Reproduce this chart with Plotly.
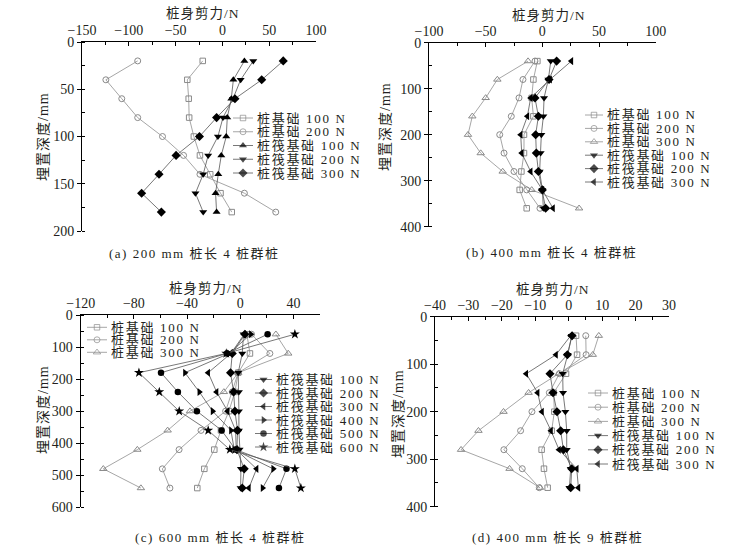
import plotly.graph_objects as go

W, H = 742, 546

# ---------------- data ----------------
depth_a = [20, 40, 60, 80, 100, 120, 140, 160, 180]
a_pile_100 = [-21, -37.5, -36, -35.5, -30.5, -24, -13, -2, 10]
a_pile_200 = [-90.5, -124.5, -107.5, -90.5, -64, -41.5, -24, 23.5, 57]
a_raft_100 = [23.5, 11.7, 9.5, 5.2, 4.1, -1.2, -4.4, -7.3, -6.2]
a_raft_200 = [33, 19.5, 11.3, 0.6, -4.8, -15.2, -20.5, -28.8, -20.5]
a_raft_300 = [65, 42, 13.4, -6.2, -24.5, -49.5, -67.7, -86.3, -65.2]

depth_b = [40, 80, 120, 160, 200, 240, 280, 320, 360]
b_pile_100 = [-4.4, -7.9, -9.4, -7.9, -16.2, -16.2, -18.5, -20, -13.8]
b_pile_200 = [-6.5, -17.1, -20.6, -27.4, -37.6, -33.8, -25, -13.8, -2.1]
b_pile_300 = [-12.6, -39.7, -50, -61.8, -65.6, -54.4, -35, -9.4, 32.4]
b_raft_100 = [7.4, 5.3, 1.5, 0.9, -0.9, -1.5, -2.4, 0, 0.9]
b_raft_200 = [12.6, 5.9, -6.5, -3.5, -5.9, -5.3, -3.5, 0, 2.9]
b_raft_300 = [25.6, 6.8, -10.3, -13.2, -19.1, -18.2, -10.3, 0, 9.4]

depth_c = [60, 120, 180, 240, 300, 360, 420, 480, 540]
c_pile_100 = [5, 7.3, -1.5, -4, -8.5, -14.5, -19.5, -27, -32.3]
c_pile_200 = [8.5, 22.3, -1.5, -6, -11, -29.5, -46, -58.6, -52.9]
c_pile_300 = [26.8, 36.1, -1.5, -12.3, -37.8, -54.6, -77.4, -103, -74.7]
c_raft_100 = [2.5, 1.5, -1.5, -1, -1, -1, -0.5, 0.5, 0.3]
c_raft_200 = [3.5, -6, -7.3, -5, -4, -2, -2.5, 3, 1.5]
c_raft_300 = [3, -7, -24.1, -17.8, -9.5, -3.5, -3, 12.3, 6.5]
c_raft_400 = [8, -8.5, -41.6, -30.8, -20.8, -7, -4.5, 24.8, 16.8]
c_raft_500 = [20.6, -10, -59.6, -46.9, -32.6, -14, -3.5, 34.8, 29.1]
c_raft_600 = [41.1, -10.5, -76.2, -60.9, -45.9, -24.1, -7.8, 41.1, 45.6]

depth_d = [40, 80, 120, 160, 200, 240, 280, 320, 360]
d_pile_100 = [2.2, 2.5, -0.8, -4.5, -4.3, -5.1, -8.1, -7.4, -6.3]
d_pile_200 = [5.1, 5.2, -2.8, -5.8, -11.0, -14.4, -19.4, -13.9, -8.8]
d_pile_300 = [9.0, 7.2, -3.0, -12.0, -19.5, -27.0, -32.2, -17.7, -8.6]
d_raft_100 = [0.9, -0.3, -1.8, -1.7, -1.0, -0.6, -0.6, 0.6, 0.2]
d_raft_200 = [1.0, -0.4, -5.6, -4.7, -3.5, -2.4, -1.6, 0.9, 0.6]
d_raft_300 = [0.6, -3.8, -12.7, -9.3, -8.0, -5.3, -2.9, 2.4, 2.9]

x_title = "桩身剪力/N"
y_title = "埋置深度/mm"
captions = ["(a) 200 mm 桩长 4 桩群桩", "(b) 400 mm 桩长 4 桩群桩",
            "(c) 600 mm 桩长 4 桩群桩", "(d) 400 mm 桩长 9 桩群桩"]

# ---------------- styles ----------------
FONT = "Liberation Serif, Noto Sans CJK SC, serif"
TXT = "#231f20"
HOLLOW = "#8a8a8a"
HLINE = "#8f8f8f"
FLINE = "#555555"

ST = {
    "p100": dict(symbol="square-open", size=5.5, color=HOLLOW, lc=HLINE, filled=False),
    "p200": dict(symbol="circle-open", size=6, color=HOLLOW, lc=HLINE, filled=False),
    "p300": dict(symbol="triangle-up-open", size=6.5, color=HOLLOW, lc=HLINE, filled=False),
    "up": dict(symbol="triangle-up", size=7, color="black", lc=FLINE, filled=True),
    "down": dict(symbol="triangle-down", size=7, color="black", lc=FLINE, filled=True),
    "dia": dict(symbol="diamond", size=7, color="black", lc=FLINE, filled=True),
    "left": dict(symbol="triangle-left", size=7, color="black", lc=FLINE, filled=True),
    "right": dict(symbol="triangle-right", size=7, color="black", lc=FLINE, filled=True),
    "dot": dict(symbol="circle", size=6.5, color="black", lc=FLINE, filled=True),
    "star": dict(symbol="star", size=7.5, color="black", lc=FLINE, filled=True),
}


def px2x(p):
    return p / W


def px2y(p):
    return 1 - p / H


def spaced(text, ls):
    return f'<span style="letter-spacing:{ls}px">{text}</span>'


panels = [
    dict(dom=(82, 316, 42, 231), xr=[-150, 100], xt=dict(tick0=-150, dtick=50), xminor=25,
         yr=[200, 0], ydt=50, yminor=25, depth=depth_a,
         series=[("桩基础 100 N", a_pile_100, "p100"), ("桩基础 200 N", a_pile_200, "p200"),
                 ("桩筏基础 100 N", a_raft_100, "up"), ("桩筏基础 200 N", a_raft_200, "down"),
                 ("桩筏基础 300 N", a_raft_300, "dia")],
         legends=[(list(range(5)), 233, 253, 118, 13.75)],
         xtitle=(203, 13), ytitle=(43, 137), cap=(194, 253)),
    dict(dom=(429, 655.7, 42.7, 226.7), xr=[-100, 100], xt=dict(tick0=-100, dtick=50), xminor=25,
         yr=[400, 0], ydt=100, yminor=50, depth=depth_b,
         series=[("桩基础 100 N", b_pile_100, "p100"), ("桩基础 200 N", b_pile_200, "p200"),
                 ("桩基础 300 N", b_pile_300, "p300"), ("桩筏基础 100 N", b_raft_100, "down"),
                 ("桩筏基础 200 N", b_raft_200, "dia"), ("桩筏基础 300 N", b_raft_300, "left")],
         legends=[(list(range(6)), 585, 603, 115, 13.4)],
         xtitle=(549, 15), ytitle=(385, 127), cap=(551, 252)),
    dict(dom=(80.7, 320, 315, 507.3), xr=[-120, 60], xt=dict(tickvals=[-120, -80, -40, 0, 40]), xminor=20,
         yr=[600, 0], ydt=100, yminor=50, depth=depth_c,
         series=[("桩基础 100 N", c_pile_100, "p100"), ("桩基础 200 N", c_pile_200, "p200"),
                 ("桩基础 300 N", c_pile_300, "p300"), ("桩筏基础 100 N", c_raft_100, "down"),
                 ("桩筏基础 200 N", c_raft_200, "dia"), ("桩筏基础 300 N", c_raft_300, "left"),
                 ("桩筏基础 400 N", c_raft_400, "right"), ("桩筏基础 500 N", c_raft_500, "dot"),
                 ("桩筏基础 600 N", c_raft_600, "star")],
         legends=[([0, 1, 2], 87, 107, 327.3, 12.5), ([3, 4, 5, 6, 7, 8], 255, 272, 379.5, 13.5)],
         xtitle=(206, 288), ytitle=(43, 410), cap=(220, 537)),
    dict(dom=(435, 669, 316.7, 506.7), xr=[-40, 30], xt=dict(tick0=-40, dtick=10), xminor=5,
         yr=[400, 0], ydt=100, yminor=50, depth=depth_d,
         series=[("桩基础 100 N", d_pile_100, "p100"), ("桩基础 200 N", d_pile_200, "p200"),
                 ("桩基础 300 N", d_pile_300, "p300"), ("桩筏基础 100 N", d_raft_100, "down"),
                 ("桩筏基础 200 N", d_raft_200, "dia"), ("桩筏基础 300 N", d_raft_300, "left")],
         legends=[(list(range(6)), 588, 608, 393, 14.2)],
         xtitle=(553, 289), ytitle=(398, 414), cap=(557, 537)),
]

fig = go.Figure()
layout = dict(width=W, height=H, margin=dict(l=0, r=0, t=0, b=0, pad=0, autoexpand=False),
              paper_bgcolor="white", plot_bgcolor="white", showlegend=False,
              font=dict(family=FONT, size=13, color=TXT))
annotations = []


def marker_of(st):
    return dict(symbol=st["symbol"], size=st["size"], color=st["color"],
                line=dict(width=0 if st["filled"] else 1, color=st["color"]))


ax_id = 0
for pi, p in enumerate(panels):
    ax_id += 1
    xa = "x" if ax_id == 1 else f"x{ax_id}"
    ya = "y" if ax_id == 1 else f"y{ax_id}"
    x0, x1, y0, y1 = p["dom"]
    xaxis = dict(domain=[px2x(x0), px2x(x1)], range=p["xr"], side="top", anchor=ya,
                 automargin=False,
                 showline=True, linecolor="black", linewidth=1.1, mirror=False,
                 showgrid=False, zeroline=False, ticks="inside", ticklen=4, tickwidth=1,
                 tickcolor="black", tickfont=dict(family=FONT, size=14, color=TXT),
                 minor=dict(ticks="inside", dtick=p["xminor"], ticklen=3, tickwidth=1,
                            tickcolor="black", showgrid=False),
                 fixedrange=True, **p["xt"])
    yaxis = dict(domain=[px2y(y1), px2y(y0)], range=p["yr"], anchor=xa,
                 automargin=False,
                 showline=True, linecolor="black", linewidth=1.1, mirror=False,
                 showgrid=False, zeroline=False, ticks="outside", ticklen=4, tickwidth=1,
                 tickcolor="black", dtick=p["ydt"], tick0=0,
                 tickfont=dict(family=FONT, size=14, color=TXT),
                 minor=dict(ticks="inside", dtick=p["yminor"], ticklen=3, tickwidth=1,
                            tickcolor="black", showgrid=False),
                 fixedrange=True)
    layout["xaxis" if ax_id == 1 else f"xaxis{ax_id}"] = xaxis
    layout["yaxis" if ax_id == 1 else f"yaxis{ax_id}"] = yaxis

    for name, vals, sk in p["series"]:
        st = ST[sk]
        fig.add_trace(go.Scatter(x=vals, y=p["depth"], name=name, mode="lines+markers",
                                 xaxis=xa, yaxis=ya,
                                 line=dict(color=st["lc"], width=0.8),
                                 marker=marker_of(st), hoverinfo="x+y+name"))

    annotations.append(dict(text=spaced(x_title, 1), x=px2x(p["xtitle"][0]), y=px2y(p["xtitle"][1]),
                            xref="paper", yref="paper", xanchor="center", yanchor="middle",
                            showarrow=False, font=dict(family=FONT, size=13.5, color=TXT)))
    annotations.append(dict(text=spaced(y_title, 1), x=px2x(p["ytitle"][0]), y=px2y(p["ytitle"][1]),
                            xref="paper", yref="paper", xanchor="center", yanchor="middle",
                            showarrow=False, textangle=-90,
                            font=dict(family=FONT, size=14, color=TXT)))
    annotations.append(dict(text=spaced(captions[pi], 1.5), x=px2x(p["cap"][0]), y=px2y(p["cap"][1]),
                            xref="paper", yref="paper", xanchor="center", yanchor="middle",
                            showarrow=False, font=dict(family=FONT, size=13, color=TXT)))

# ---------------- custom legends (sample line + marker + text) ----------------
for p in panels:
    for idxs, lx0, lx1, ry0, sp in p["legends"]:
        ax_id += 1
        xa, ya = f"x{ax_id}", f"y{ax_id}"
        n = len(idxs)
        top = ry0 - sp / 2
        bot = ry0 + (n - 0.5) * sp
        layout[f"xaxis{ax_id}"] = dict(domain=[px2x(lx0), px2x(lx1)], range=[0, 1],
                                       visible=False, anchor=ya, fixedrange=True,
                                       automargin=False)
        layout[f"yaxis{ax_id}"] = dict(domain=[px2y(bot), px2y(top)], range=[n - 0.5, -0.5],
                                       visible=False, anchor=xa, fixedrange=True,
                                       automargin=False)
        for row, si in enumerate(idxs):
            name, vals, sk = p["series"][si]
            st = ST[sk]
            fig.add_trace(go.Scatter(x=[0, 0.5, 1], y=[row, row, row], mode="lines+markers",
                                     xaxis=xa, yaxis=ya, showlegend=False, hoverinfo="skip",
                                     cliponaxis=False,
                                     line=dict(color=st["lc"], width=0.8),
                                     marker=dict(symbol=st["symbol"], size=[0, st["size"], 0],
                                                 color=st["color"],
                                                 line=dict(width=0 if st["filled"] else 1,
                                                           color=st["color"]))))
            annotations.append(dict(text=spaced(name, 1.7), x=1, y=row, xref=xa, yref=ya,
                                    xanchor="left", yanchor="middle", xshift=2,
                                    showarrow=False,
                                    font=dict(family=FONT, size=13, color=TXT)))

layout["annotations"] = annotations
fig.update_layout(**layout)
fig.write_html("out.html", config={"displayModeBar": False},
               post_script="document.body.style.margin='0';document.body.style.overflow='hidden';")
